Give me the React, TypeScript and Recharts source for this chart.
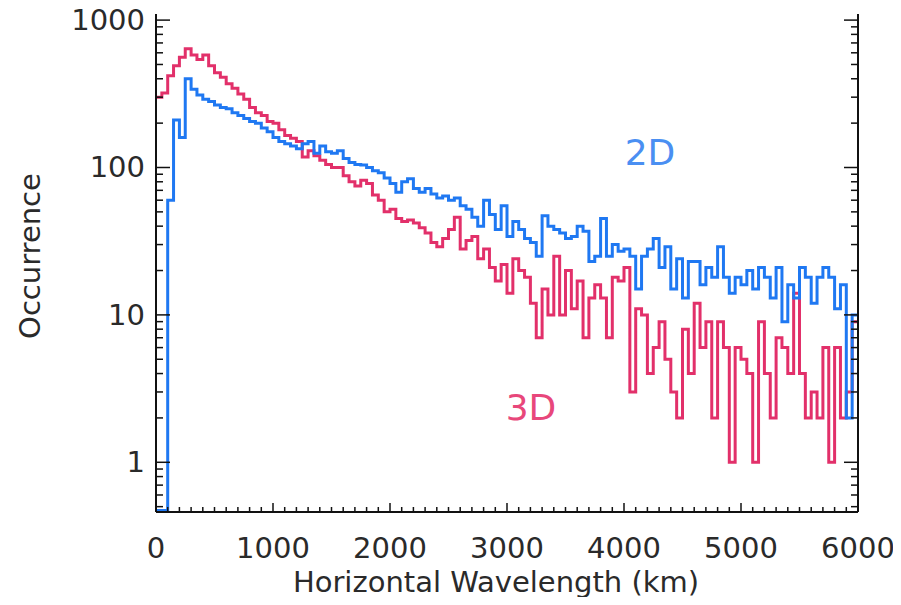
import { LineChart, Line, XAxis, YAxis } from "recharts"

// histogram bins, 50 km wide, starting at 0 km
const binWidth = 50

// 2D occurrences per bin
const occ2D = [
  0, 0, 60, 210, 160, 400, 340, 310, 290, 280, 265, 255, 250, 235, 225, 215, 205, 200, 185, 175,
  160, 150, 145, 140, 134, 145, 150, 125, 140, 128, 125, 130, 115, 108, 105, 104, 100, 95, 92, 85,
  78, 68, 80, 84, 72, 68, 72, 66, 62, 64, 60, 62, 55, 52, 46, 40, 60, 48, 38,
  55, 34, 43, 38, 33, 31, 25, 47, 40, 38, 36, 33, 34, 40, 37, 23, 25, 45, 25, 30, 27, 28, 25, 15, 25, 28, 33, 21, 29,
  15, 24, 13, 23, 23, 16, 21, 18, 29, 18, 14, 18, 16, 20, 15, 21, 18, 13, 21, 9, 16, 13, 21, 18, 12, 18, 21, 18, 11, 16, 2, 10,
]

// 3D occurrences per bin
const occ3D = [
  300, 320, 420, 490, 560, 640, 580, 540, 580, 490, 440, 410, 370, 345, 315, 290, 255, 235, 225, 205,
  200, 180, 165, 158, 150, 118, 130, 120, 112, 105, 100, 100, 88, 80, 75, 82, 78, 65, 60, 50,
  52, 45, 43, 44, 42, 39, 36, 31, 29, 33, 38, 46, 28, 32, 34, 24, 28, 21, 17,
  22, 14, 24, 20, 18, 12, 7, 15, 10, 25, 10, 20, 11, 17, 7, 13, 16, 13, 7, 18, 17, 21, 3, 11, 10, 4, 6, 9, 5,
  3, 2, 8, 4, 12, 6, 9, 2, 9, 6, 1, 6, 5, 4, 1, 9, 4, 2, 7, 6, 4, 14, 4, 2, 3, 2, 6, 1, 6, 2, 3, 9,
]

const xMajor = [0, 1000, 2000, 3000, 4000, 5000, 6000]
const yMajor = [1, 10, 100, 1000]

const xTicks = Array.from({ length: 61 }, (_, i) => i * 100)
const yTicks = [0.5, 0.6, 0.7, 0.8, 0.9].concat(
  ...yMajor.map((d) => (d === 1000 ? [1000] : [1, 2, 3, 4, 5, 6, 7, 8, 9].map((k) => k * d)))
)

const Y_MIN = 0.46
const Y_MAX = 1100
const floor = (v: number) => (v > 0 ? v : Y_MIN + 0.01)

const rows = occ2D.map((v, i) => ({ x: i * binWidth, d2: floor(v), d3: floor(occ3D[i]) }))
rows.push({ x: 6000, d2: floor(occ2D[occ2D.length - 1]), d3: floor(occ3D[occ3D.length - 1]) })

const font = "'DejaVu Sans', sans-serif"
const INK = "#2a2a2a"
const BLUE = "#1f78f2"
const PINK = "#e2306a"

const isMajorY = (v: number) => yMajor.some((m) => Math.abs(m - v) < 1e-9)

const BottomTick = ({ x, y, payload }: any) => {
  const major = xMajor.includes(payload.value)
  return (
    <g>
      <line x1={x} y1={y} x2={x} y2={y - (major ? 9 : 5)} stroke="#111" strokeWidth={1.5} />
      {major && (
        <text x={x} y={y + 46} textAnchor="middle" fontSize={29} fontFamily={font} fill={INK}>
          {payload.value}
        </text>
      )}
    </g>
  )
}

const TopTick = ({ x, y, payload }: any) => {
  const major = xMajor.includes(payload.value)
  return <line x1={x} y1={y} x2={x} y2={y + (major ? 9 : 5)} stroke="#111" strokeWidth={1.5} />
}

const LeftTick = ({ x, y, payload }: any) => {
  const major = isMajorY(payload.value)
  return (
    <g>
      <line x1={x} y1={y} x2={x + (major ? 14 : 7)} y2={y} stroke="#111" strokeWidth={1.5} />
      {major && (
        <text x={x - 11} y={y + 10} textAnchor="end" fontSize={29} fontFamily={font} fill={INK}>
          {payload.value}
        </text>
      )}
    </g>
  )
}

const RightTick = ({ x, y, payload }: any) => {
  const major = isMajorY(payload.value)
  return <line x1={x} y1={y} x2={x - (major ? 14 : 7)} y2={y} stroke="#111" strokeWidth={1.5} />
}

const label = (left: number, top: number, size: number, color: string, rotate = 0): any => ({
  position: "absolute",
  left,
  top,
  transform: `translate(-50%, -50%) rotate(${rotate}deg)`,
  fontFamily: font,
  fontSize: size,
  lineHeight: 1,
  color,
  whiteSpace: "nowrap",
})

const axisLine = { stroke: "#111", strokeWidth: 2 }

export default function App() {
  // cancel the body margin so chart pixels line up with the page
  return (
    <div style={{ position: "relative", width: 901, height: 605, margin: -8, background: "#fff" }}>
      <LineChart width={901} height={605} data={rows} margin={{ top: 14, right: 42, bottom: 0, left: 0 }}>
        <XAxis
          dataKey="x"
          type="number"
          domain={[0, 6000]}
          allowDataOverflow
          ticks={xTicks}
          interval={0}
          tickSize={0}
          tickMargin={0}
          tickLine={false}
          tick={<BottomTick />}
          axisLine={axisLine}
          height={93}
        />
        <XAxis
          xAxisId="top"
          orientation="top"
          dataKey="x"
          type="number"
          domain={[0, 6000]}
          allowDataOverflow
          ticks={xTicks}
          interval={0}
          tickSize={0}
          tickMargin={0}
          tickLine={false}
          tick={<TopTick />}
          axisLine={axisLine}
          height={0}
        />
        <YAxis
          type="number"
          scale="log"
          domain={[Y_MIN, Y_MAX]}
          allowDataOverflow
          ticks={yTicks}
          interval={0}
          tickSize={0}
          tickMargin={0}
          tickLine={false}
          tick={<LeftTick />}
          axisLine={axisLine}
          width={156}
        />
        <YAxis
          yAxisId="right"
          orientation="right"
          type="number"
          scale="log"
          domain={[Y_MIN, Y_MAX]}
          allowDataOverflow
          ticks={yTicks}
          interval={0}
          tickSize={0}
          tickMargin={0}
          tickLine={false}
          tick={<RightTick />}
          axisLine={axisLine}
          width={1}
        />
        <Line type="stepAfter" dataKey="d3" stroke={PINK} strokeWidth={3} dot={false} isAnimationActive={false} />
        <Line type="stepAfter" dataKey="d2" stroke={BLUE} strokeWidth={3} dot={false} isAnimationActive={false} />
      </LineChart>
      <div style={label(30, 256, 29, INK, -90)}>Occurrence</div>
      <div style={label(496, 582, 29, INK)}>Horizontal Wavelength (km)</div>
      <div style={label(650, 153, 36, "#4a8ff2")}>2D</div>
      <div style={label(531, 408, 36, "#e8477b")}>3D</div>
    </div>
  )
}
